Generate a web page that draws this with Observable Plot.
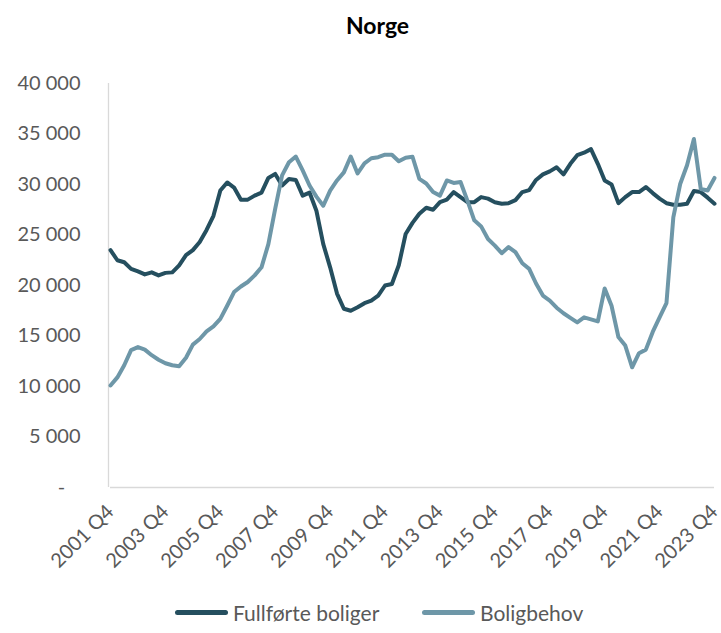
<!DOCTYPE html>
<html>
<head>
<meta charset="utf-8">
<script src="https://cdn.jsdelivr.net/npm/d3@7"></script>
<script src="https://cdn.jsdelivr.net/npm/@observablehq/plot@0.6"></script>
<style>
  html, body { margin: 0; padding: 0; background: #fff; }
  body { width: 721px; height: 633px; position: relative; font-family: Lato, "Open Sans", sans-serif; overflow: hidden; }
  #title { position: absolute; left: 0; top: 0; width: 721px; height: 50px; line-height: 50px; text-align: center; padding-left: 34px; box-sizing: border-box; font-weight: bold; font-size: 23px; color: #000; }
  #chart { position: absolute; left: 0; top: 50px; }
  .leg { position: absolute; top: 600px; height: 24px; display: flex; align-items: center; font-size: 21px; color: #595959; }
  .sw { width: 53px; height: 5px; border-radius: 3px; margin-right: 5px; }
</style>
</head>
<body>
<div id="title">Norge</div>
<div id="chart"></div>
<div class="leg" style="left:175px"><div class="sw" style="background:#254f5f"></div><span>Fullførte boliger</span></div>
<div class="leg" style="left:422px"><div class="sw" style="background:#6e97a8"></div><span>Boligbehov</span></div>
<script>
// Quarterly series, 2001 Q4 – 2023 Q4 (89 quarters)
const firstYear = 2001;
const firstQuarter = 4;
const quarterCount = 89;

const fullforteBoliger = [
  23500, 22500, 22300, 21650, 21400, 21100, 21300, 21000, 21250, 21300,
  22000, 23000, 23500, 24300, 25500, 26900, 29400, 30200, 29700, 28500,
  28500, 28900, 29200, 30650, 31050, 29900, 30550, 30450, 28900, 29200,
  27400, 24100, 21800, 19200, 17700, 17500, 17850, 18250, 18500, 19000,
  20000, 20150, 22000, 25100, 26200, 27100, 27700, 27500, 28250, 28500,
  29250, 28750, 28250, 28250, 28750, 28600, 28250, 28100, 28150, 28450,
  29250, 29450, 30450, 31000, 31300, 31700, 31000, 32050, 32900, 33150,
  33500, 32050, 30400, 30000, 28150, 28750, 29250, 29250, 29750, 29150,
  28600, 28150, 28000, 28000, 28100, 29350, 29250, 28700, 28100
];

const boligbehov = [
  10100, 10900, 12100, 13600, 13900, 13650, 13100, 12650, 12300, 12100,
  12000, 12850, 14150, 14700, 15450, 15950, 16700, 18000, 19350, 19900,
  20350, 21000, 21800, 24100, 27600, 30900, 32200, 32770, 31400, 29900,
  28800, 27900, 29400, 30400, 31200, 32770, 31100, 32100, 32600, 32700,
  32950, 32950, 32300, 32650, 32750, 30550, 30100, 29250, 28900, 30400,
  30150, 30250, 28400, 26450, 25850, 24600, 23950, 23200, 23800, 23300,
  22200, 21650, 20200, 19000, 18500, 17800, 17250, 16800, 16350, 16850,
  16650, 16450, 19700, 18000, 14900, 14050, 11900, 13300, 13650, 15400,
  16850, 18250, 26750, 30050, 31900, 34500, 29550, 29400, 30650
];

const tickLabels = [
  "2001 Q4", "2003 Q4", "2005 Q4", "2007 Q4", "2009 Q4", "2011 Q4",
  "2013 Q4", "2015 Q4", "2017 Q4", "2019 Q4", "2021 Q4", "2023 Q4"
];

const yTicks = [0, 5000, 10000, 15000, 20000, 25000, 30000, 35000, 40000];

const seriesNames = ["Fullførte boliger", "Boligbehov"];
const seriesColors = ["#254f5f", "#6e97a8"];

// category labels
const quarters = [];
for (let k = 0; k < quarterCount; k++) {
  const idx = (firstQuarter - 1) + k;
  quarters.push(`${firstYear + Math.floor(idx / 4)} Q${(idx % 4) + 1}`);
}

const rows = [];
quarters.forEach((q, i) => {
  rows.push({q, v: fullforteBoliger[i], s: seriesNames[0]});
});
quarters.forEach((q, i) => {
  rows.push({q, v: boligbehov[i], s: seriesNames[1]});
});

const fmt = d => d === 0 ? "-\u00a0\u00a0\u00a0" : d3.format(",")(d).replace(/,/g, "\u00a0");

const chart = Plot.plot({
  width: 721,
  height: 540,
  marginTop: 33,
  marginBottom: 103,
  marginLeft: 110,
  marginRight: 7,
  style: {fontFamily: "Lato, 'Open Sans', sans-serif", fontSize: "20px", color: "#595959", background: "transparent"},
  x: {type: "point", domain: quarters, padding: 0},
  y: {domain: [0, 40000]},
  color: {domain: seriesNames, range: seriesColors},
  marks: [
    Plot.ruleY([0], {stroke: "#d9d9d9", strokeWidth: 1.3}),
    Plot.ruleX([quarters[0]], {y1: 0, y2: 40000, stroke: "#d9d9d9", strokeWidth: 1.3, dx: -2}),
    Plot.axisY({ticks: yTicks, tickSize: 0, tickPadding: 30, tickFormat: fmt, label: null, fontSize: 20}),
    Plot.axisX({ticks: tickLabels, tickSize: 0, tickRotate: -45, tickPadding: 21, label: null, fontSize: 20}),
    Plot.lineY(rows.filter(d => d.s === seriesNames[0]), {x: "q", y: "v", stroke: "s", strokeWidth: 4, strokeLinejoin: "round", strokeLinecap: "round"}),
    Plot.lineY(rows.filter(d => d.s === seriesNames[1]), {x: "q", y: "v", stroke: "s", strokeWidth: 4, strokeLinejoin: "round", strokeLinecap: "round"})
  ]
});
document.getElementById("chart").appendChild(chart);
</script>
</body>
</html>
